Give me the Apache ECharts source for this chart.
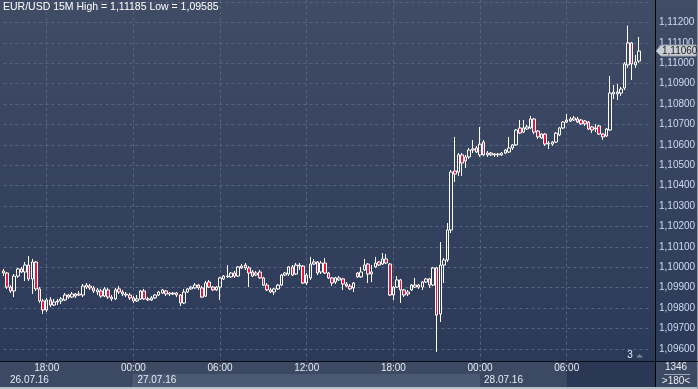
<!DOCTYPE html>
<html><head><meta charset="utf-8">
<script src="https://cdn.jsdelivr.net/npm/echarts/dist/echarts.min.js"></script>
<style>html,body{margin:0;padding:0;background:#2c3a57;overflow:hidden}#c{width:698px;height:389px}</style>
</head><body><div id="c"></div>
<script>
// ---- data ----
const symbolName = 'EUR/USD 15M';
const firstBar = {day: 26, hour: 15, minute: 0};
const barCount = 180;
const tickTimes = ['00:00', '06:00', '12:00', '18:00'];
const dateLabels = ['26.07.16', '27.07.16', '28.07.16'];
const yTicksShown = [1.096, 1.112];
const barsInfo = ['1346', '>180<'];
const markerText = '3';

const opens = [
1.09982,1.09972,1.09903,1.09884,1.09957,1.09992,1.09977,1.10011,1.09943,1.10026,
1.09894,1.09835,1.09791,1.09840,1.09815,1.09830,1.09835,1.09840,1.09864,1.09854,
1.09869,1.09864,1.09864,1.09903,1.09908,1.09899,1.09879,1.09884,1.09859,1.09889,
1.09854,1.09845,1.09894,1.09879,1.09869,1.09864,1.09850,1.09835,1.09845,1.09884,
1.09845,1.09840,1.09850,1.09864,1.09874,1.09884,1.09869,1.09874,1.09874,1.09864,
1.09825,1.09879,1.09894,1.09899,1.09913,1.09899,1.09859,1.09928,1.09903,1.09889,
1.09903,1.09943,1.09957,1.09953,1.09972,1.09957,1.09997,1.10011,1.09997,1.09977,
1.09962,1.09977,1.09948,1.09913,1.09889,1.09879,1.09894,1.09913,1.09962,1.09967,
1.10002,1.09967,1.10006,1.10006,1.09923,1.09948,1.10016,1.10026,1.09977,1.10021,
1.09972,1.09948,1.09928,1.09938,1.09943,1.09918,1.09908,1.09899,1.09972,1.09953,
1.09987,1.10016,1.09967,1.10002,1.10026,1.10016,1.10041,1.10016,1.09864,1.09903,
1.09938,1.09889,1.09879,1.09889,1.09903,1.09913,1.09903,1.09928,1.09943,1.09913,
1.09997,1.09771,1.10011,1.10036,1.10183,1.10472,1.10467,1.10551,1.10541,1.10541,
1.10575,1.10585,1.10551,1.10614,1.10551,1.10560,1.10551,1.10555,1.10551,1.10560,
1.10565,1.10585,1.10600,1.10683,1.10663,1.10678,1.10683,1.10727,1.10668,1.10634,
1.10653,1.10604,1.10604,1.10614,1.10649,1.10683,1.10712,1.10717,1.10722,1.10727,
1.10722,1.10717,1.10712,1.10688,1.10678,1.10693,1.10653,1.10644,1.10673,1.10850,
1.10850,1.10854,1.10879,1.10992,1.11100,1.10992,1.11011];

const closes = [
1.09972,1.09903,1.09884,1.09957,1.09992,1.09977,1.10011,1.09943,1.10026,1.09894,
1.09835,1.09791,1.09840,1.09815,1.09830,1.09835,1.09845,1.09864,1.09854,1.09869,
1.09859,1.09869,1.09908,1.09913,1.09899,1.09884,1.09889,1.09859,1.09894,1.09854,
1.09845,1.09889,1.09879,1.09869,1.09864,1.09850,1.09835,1.09845,1.09884,1.09845,
1.09840,1.09850,1.09864,1.09879,1.09889,1.09869,1.09874,1.09869,1.09864,1.09825,
1.09879,1.09894,1.09903,1.09913,1.09899,1.09854,1.09923,1.09903,1.09889,1.09903,
1.09948,1.09957,1.09953,1.09972,1.09957,1.10002,1.10006,1.09997,1.09972,1.09957,
1.09972,1.09948,1.09913,1.09889,1.09879,1.09894,1.09913,1.09962,1.09972,1.10002,
1.09962,1.10011,1.10011,1.09923,1.09962,1.10016,1.10026,1.09972,1.10021,1.09972,
1.09948,1.09923,1.09948,1.09948,1.09918,1.09908,1.09894,1.09923,1.09953,1.09977,
1.10011,1.09967,1.09977,1.10021,1.10011,1.10041,1.10021,1.09864,1.09903,1.09938,
1.09889,1.09864,1.09869,1.09913,1.09913,1.09903,1.09928,1.09943,1.09913,1.09997,
1.09766,1.10011,1.10036,1.10183,1.10467,1.10457,1.10551,1.10511,1.10521,1.10575,
1.10580,1.10565,1.10604,1.10551,1.10560,1.10551,1.10555,1.10551,1.10560,1.10575,
1.10585,1.10600,1.10673,1.10658,1.10683,1.10688,1.10727,1.10663,1.10639,1.10653,
1.10604,1.10609,1.10614,1.10658,1.10683,1.10712,1.10722,1.10727,1.10732,1.10712,
1.10703,1.10703,1.10678,1.10673,1.10683,1.10653,1.10639,1.10678,1.10854,1.10859,
1.10859,1.10874,1.10997,1.11100,1.10997,1.11006,1.11060];

const highs = [
1.09992,1.09977,1.09913,1.09967,1.09997,1.10002,1.10026,1.10055,1.10041,1.10031,
1.09903,1.09845,1.09850,1.09854,1.09845,1.09845,1.09854,1.09874,1.09869,1.09879,
1.09874,1.09884,1.09918,1.09923,1.09918,1.09908,1.09899,1.09894,1.09903,1.09899,
1.09864,1.09899,1.09908,1.09889,1.09879,1.09874,1.09859,1.09864,1.09889,1.09894,
1.09854,1.09859,1.09869,1.09884,1.09894,1.09889,1.09879,1.09879,1.09879,1.09869,
1.09894,1.09899,1.09908,1.09923,1.09918,1.09908,1.09933,1.09938,1.09908,1.09908,
1.09953,1.09962,1.10011,1.09977,1.09982,1.10006,1.10016,1.10021,1.10006,1.09987,
1.09982,1.09987,1.09953,1.09923,1.09899,1.09899,1.09918,1.09967,1.09977,1.10006,
1.10011,1.10021,1.10021,1.10011,1.09972,1.10051,1.10041,1.10031,1.10031,1.10046,
1.09977,1.09953,1.09953,1.09957,1.09948,1.09928,1.09918,1.09928,1.09977,1.10002,
1.10041,1.10021,1.10011,1.10051,1.10031,1.10070,1.10065,1.10021,1.09908,1.09957,
1.09943,1.09894,1.09889,1.09918,1.09948,1.09918,1.09933,1.09948,1.09948,1.10002,
1.10002,1.10124,1.10046,1.10217,1.10477,1.10639,1.10560,1.10560,1.10551,1.10585,
1.10624,1.10595,1.10688,1.10624,1.10570,1.10565,1.10560,1.10560,1.10565,1.10580,
1.10639,1.10604,1.10678,1.10722,1.10722,1.10698,1.10742,1.10732,1.10673,1.10658,
1.10658,1.10619,1.10619,1.10663,1.10688,1.10717,1.10752,1.10737,1.10742,1.10737,
1.10727,1.10722,1.10717,1.10693,1.10703,1.10698,1.10658,1.10683,1.10938,1.10894,
1.10899,1.10884,1.11006,1.11185,1.11104,1.11041,1.11129];

const lows = [
1.09957,1.09894,1.09874,1.09854,1.09948,1.09972,1.09933,1.09933,1.09869,1.09884,
1.09825,1.09771,1.09781,1.09805,1.09810,1.09815,1.09820,1.09835,1.09845,1.09850,
1.09850,1.09859,1.09854,1.09894,1.09889,1.09874,1.09864,1.09850,1.09854,1.09845,
1.09835,1.09840,1.09869,1.09859,1.09854,1.09840,1.09825,1.09830,1.09840,1.09840,
1.09835,1.09835,1.09845,1.09859,1.09869,1.09859,1.09859,1.09864,1.09854,1.09810,
1.09820,1.09874,1.09889,1.09894,1.09889,1.09850,1.09854,1.09899,1.09884,1.09884,
1.09840,1.09938,1.09948,1.09948,1.09948,1.09953,1.09992,1.09987,1.09903,1.09953,
1.09957,1.09943,1.09908,1.09884,1.09874,1.09864,1.09889,1.09908,1.09957,1.09957,
1.09957,1.09962,1.09987,1.09918,1.09913,1.09938,1.10011,1.09962,1.09967,1.09967,
1.09943,1.09908,1.09918,1.09933,1.09889,1.09903,1.09889,1.09879,1.09948,1.09948,
1.09982,1.09923,1.09928,1.09997,1.10006,1.10011,1.10016,1.09859,1.09840,1.09899,
1.09825,1.09854,1.09859,1.09884,1.09899,1.09894,1.09889,1.09923,1.09899,1.09908,
1.09585,1.09732,1.09923,1.10026,1.10168,1.10418,1.10448,1.10448,1.10487,1.10531,
1.10560,1.10560,1.10541,1.10546,1.10541,1.10546,1.10541,1.10541,1.10546,1.10555,
1.10560,1.10575,1.10595,1.10653,1.10658,1.10673,1.10678,1.10653,1.10629,1.10629,
1.10595,1.10580,1.10595,1.10609,1.10644,1.10678,1.10707,1.10712,1.10717,1.10707,
1.10698,1.10693,1.10673,1.10658,1.10663,1.10649,1.10624,1.10639,1.10668,1.10825,
1.10820,1.10840,1.10869,1.10977,1.10918,1.10977,1.11002];

// ---- build categories (15-minute bars) ----
function pad(n) { return (n < 10 ? '0' : '') + n; }
const categories = [];
for (let k = 0; k < barCount; k++) {
  const t = firstBar.hour * 60 + firstBar.minute + k * 15;
  const d = firstBar.day + Math.floor(t / 1440);
  const m = t % 1440;
  categories.push(d + '.07.16 ' + pad(Math.floor(m / 60)) + ':' + pad(m % 60));
}
const candleData = opens.map((o, i) => [o, closes[i], lows[i], highs[i]]);
const fmt = v => v.toFixed(5).replace('.', ',');
const isTick = (idx, val) => tickTimes.indexOf(String(val).slice(-5)) >= 0;

// ---- layout ----
const STEP = 3.611;
const gridLeft = 3.4;
const gridWidth = (barCount - 1) * STEP;
const axisX = 655;
const yMin = 1.095, yMax = 1.114;
const FONT = '"Liberation Sans", Arial, sans-serif';

const chart = echarts.init(document.getElementById('c'), null, {renderer: 'canvas'});
chart.setOption({
  animation: false,
  backgroundColor: {type: 'linear', x: 0, y: 0, x2: 0, y2: 1,
    colorStops: [{offset: 0, color: '#404c65'}, {offset: 1, color: '#2a3858'}]},
  grid: [
    {left: gridLeft, width: gridWidth, top: -18.3, height: 387.6, containLabel: false, outerBoundsMode: 'none'},
    {left: gridLeft, width: gridWidth, top: 360, height: 1, containLabel: false, outerBoundsMode: 'none'}
  ],
  xAxis: [
    {type: 'category', data: categories, boundaryGap: false, gridIndex: 0,
     axisLine: {show: false}, axisTick: {show: false}, axisLabel: {show: false},
     splitLine: {show: true, interval: isTick, lineStyle: {color: '#56657f', width: 1, type: [3, 3]}}},
    {type: 'category', data: categories, boundaryGap: false, gridIndex: 1, z: 60,
     axisLine: {show: false}, axisTick: {show: false}, splitLine: {show: false},
     axisLabel: {interval: isTick, formatter: v => v.slice(-5), color: '#e6ebf3',
       fontSize: 10, fontFamily: FONT, margin: 2, hideOverlap: false}}
  ],
  yAxis: [
    {type: 'value', position: 'right', gridIndex: 0, min: yMin, max: yMax, interval: 0.001,
     offset: axisX - (gridLeft + gridWidth),
     axisLine: {show: true, lineStyle: {color: '#000', width: 1}}, axisTick: {show: false},
     axisLabel: {color: '#cddbf0', fontSize: 10, fontFamily: FONT, margin: 4,
       formatter: v => (v < yTicksShown[0] - 0.0005 || v > yTicksShown[1] + 0.0005) ? '' : fmt(v)},
     splitLine: {show: true, lineStyle: {color: '#56657f', width: 1, type: [3, 3]}}},
    {type: 'value', gridIndex: 1, show: false}
  ],
  series: [{
    type: 'candlestick', xAxisIndex: 0, yAxisIndex: 0, data: candleData,
    barWidth: 3, clip: false,
    itemStyle: {color: 'rgba(0,0,0,0)', color0: '#e8173e', borderColor: '#ffffff', borderColor0: '#ffffff', borderWidth: 1}
  }]
});

// ---- overlays ----
const px = i => chart.convertToPixel({xAxisIndex: 0}, i);
const py = v => chart.convertToPixel({yAxisIndex: 0}, v);
const idxOf = s => categories.indexOf(s);
const d27 = px(idxOf('27.07.16 00:00'));
const d28 = px(idxOf('28.07.16 00:00'));
const cur = px(idxOf('28.07.16 06:00'));
const hi = Math.max.apply(null, highs), lo = Math.min.apply(null, lows);
const last = closes[closes.length - 1];
const ly = py(last);

const g = [
  {type: 'rect', z: 50, silent: true, shape: {x: 0, y: 361, width: 698, height: 28}, style: {fill: '#3c4962'}},
  {type: 'rect', z: 51, silent: true, shape: {x: d27, y: 374, width: d28 - d27, height: 13}, style: {fill: '#4b5872'}},
  {type: 'rect', z: 51, silent: true, shape: {x: cur, y: 361, width: axisX - cur, height: 26}, style: {fill: '#2b3855'}},
  {type: 'line', z: 52, silent: true, shape: {x1: d27, y1: 374, x2: d27, y2: 387}, style: {stroke: '#56647c', lineWidth: 1}},
  {type: 'rect', z: 52, silent: true, shape: {x: 0, y: 387, width: 698, height: 2}, style: {fill: '#b7bfca'}},
  {type: 'rect', z: 52, silent: true, shape: {x: 697, y: 0, width: 1, height: 389}, style: {fill: '#8d97a6'}},
  {type: 'line', z: 53, silent: true, shape: {x1: 0, y1: 361.5, x2: 698, y2: 361.5}, style: {stroke: '#0b0f18', lineWidth: 1}},
  {type: 'line', z: 53, silent: true, shape: {x1: axisX + 0.5, y1: 0, x2: axisX + 0.5, y2: 387}, style: {stroke: '#000', lineWidth: 1}},
  {type: 'text', z: 61, silent: true, x: 10, y: 380, style: {text: dateLabels[0], fill: '#e6ebf3', font: '10px ' + FONT, align: 'left', verticalAlign: 'middle'}},
  {type: 'text', z: 61, silent: true, x: d27 + 4, y: 380, style: {text: dateLabels[1], fill: '#e6ebf3', font: '10px ' + FONT, align: 'left', verticalAlign: 'middle'}},
  {type: 'text', z: 61, silent: true, x: d28 + 4, y: 380, style: {text: dateLabels[2], fill: '#e6ebf3', font: '10px ' + FONT, align: 'left', verticalAlign: 'middle'}},
  {type: 'text', z: 61, silent: true, x: 676, y: 367, style: {text: barsInfo[0], fill: '#e6ebf3', font: '10px ' + FONT, align: 'center', verticalAlign: 'middle'}},
  {type: 'line', z: 61, silent: true, shape: {x1: 664, y1: 374.5, x2: 690, y2: 374.5}, style: {stroke: '#9aa4b4', lineWidth: 1}},
  {type: 'text', z: 61, silent: true, x: 676, y: 381, style: {text: barsInfo[1], fill: '#e6ebf3', font: '10px ' + FONT, align: 'center', verticalAlign: 'middle'}},
  {type: 'text', z: 61, silent: true, x: 3, y: 7.5, style: {text: symbolName + ' High = ' + fmt(hi) + ' Low = ' + fmt(lo), fill: '#ffffff', font: '10.5px ' + FONT, align: 'left', verticalAlign: 'middle'}},
  {type: 'polygon', z: 61, silent: true, shape: {points: [[656, ly], [661, ly - 6], [696, ly - 6], [696, ly + 5], [661, ly + 5]]}, style: {fill: '#cbced3', stroke: '#9aa0a8', lineWidth: 1}},
  {type: 'text', z: 62, silent: true, x: 662, y: ly, style: {text: fmt(last), fill: '#1b1f27', font: '10px ' + FONT, align: 'left', verticalAlign: 'middle'}},
  {type: 'text', z: 61, silent: true, x: 630, y: 355.5, style: {text: markerText, fill: '#e6ebf3', font: '10px ' + FONT, align: 'center', verticalAlign: 'middle'}},
  {type: 'polygon', z: 61, silent: true, shape: {points: [[636, 357.5], [643, 357.5], [639.5, 354]]}, style: {fill: '#7a8599'}}
];
chart.setOption({graphic: g});
</script>
</body></html>
